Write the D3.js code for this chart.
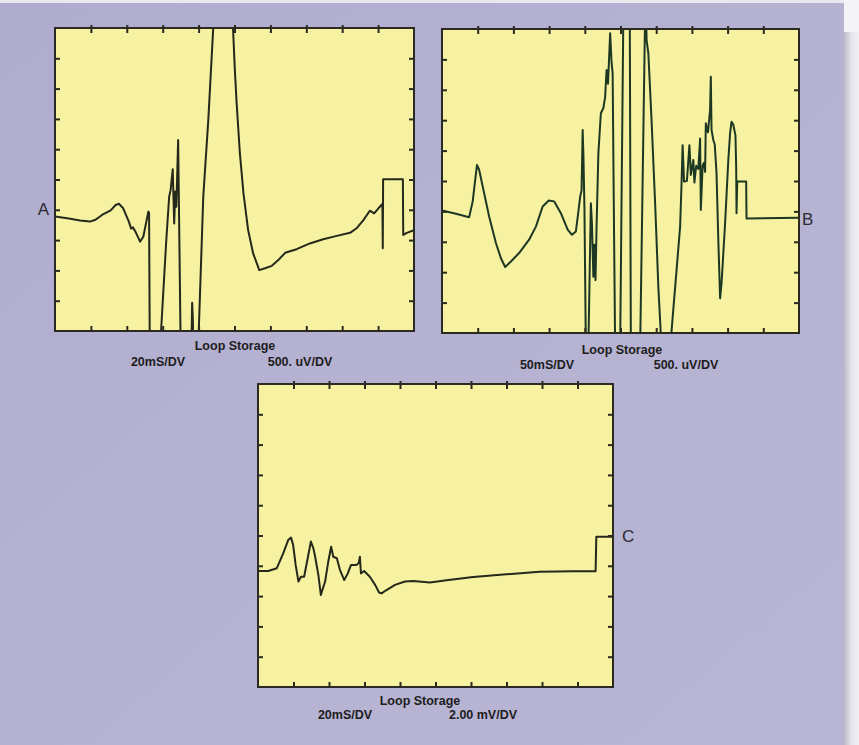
<!DOCTYPE html>
<html>
<head>
<meta charset="utf-8">
<script src="https://cdn.jsdelivr.net/npm/d3@7"></script>
<style>
  html, body { margin: 0; padding: 0; background: #b2aecf; }
  svg { display: block; }
  text { font-family: "Liberation Sans", Arial, sans-serif; fill: #1d1d1d; }
</style>
</head>
<body>
<div id="root"></div>
<script>
const traceA = [
  [0.00,-1.22],[0.34,-1.28],[0.70,-1.35],[0.97,-1.39],[1.13,-1.33],[1.31,-1.17],[1.55,-1.02],
  [1.69,-0.84],[1.78,-0.80],[1.90,-0.95],[2.06,-1.40],[2.12,-1.62],[2.17,-1.58],[2.24,-1.72],
  [2.37,-2.05],[2.46,-1.89],[2.60,-1.06],[2.62,-1.10],[2.64,-5.5],[2.93,-5.5],[3.10,-2.00],
  [3.18,-0.57],[3.22,-0.35],[3.28,0.34],[3.30,-0.60],[3.32,-1.45],[3.35,-0.40],[3.38,-0.90],
  [3.43,1.30],[3.50,-5.5],[3.80,-5.5],[3.82,-4.07],[3.84,-4.60],[3.85,-5.5],[3.99,-5.5],
  [4.13,-0.57],[4.27,1.96],[4.43,5.5],[4.94,5.5],[5.01,3.61],[5.06,2.51],[5.15,0.86],
  [5.25,-0.46],[5.38,-1.67],[5.52,-2.44],[5.69,-2.99],[5.85,-2.93],[6.04,-2.85],[6.22,-2.66],
  [6.41,-2.42],[6.73,-2.30],[7.10,-2.11],[7.47,-1.97],[7.85,-1.86],[8.22,-1.76],[8.40,-1.61],
  [8.59,-1.34],[8.77,-1.03],[8.89,-1.12],[9.01,-0.95],[9.12,-0.81],[9.13,-2.27],[9.14,0.01],
  [9.69,0.01],[9.70,-1.83],[9.80,-1.76],[10.0,-1.67]
];

const traceB = [
  [0.00,-0.97],[0.39,-1.08],[0.76,-1.19],[0.86,-0.67],[0.98,0.53],[1.04,0.37],[1.18,-0.40],
  [1.32,-1.17],[1.51,-2.04],[1.65,-2.54],[1.77,-2.83],[1.93,-2.65],[2.16,-2.37],[2.44,-1.93],
  [2.63,-1.50],[2.82,-0.84],[2.99,-0.64],[3.14,-0.67],[3.33,-1.06],[3.52,-1.60],[3.64,-1.77],
  [3.75,-1.66],[3.80,-1.20],[3.87,-0.52],[3.91,-0.30],[3.94,1.68],[3.96,0.91],[3.99,-0.90],
  [4.03,-5.5],[4.10,-5.5],[4.17,-0.73],[4.20,-1.40],[4.24,-3.15],[4.27,-2.10],[4.30,-3.26],
  [4.33,-1.50],[4.38,0.91],[4.45,2.23],[4.52,2.40],[4.57,2.77],[4.61,3.65],[4.65,3.20],
  [4.71,4.86],[4.75,3.90],[4.78,3.54],[4.81,-0.50],[4.85,-5.5],[4.99,-5.5],[5.08,5.5],
  [5.26,5.5],[5.29,-5.5],[5.55,-5.5],[5.69,5.5],[5.72,5.5],[5.73,4.64],[5.78,4.20],[5.87,2.00],
  [5.97,-0.73],[6.06,-3.48],[6.15,-5.5],[6.39,-5.5],[6.57,-2.93],[6.67,-1.50],[6.71,-0.08],
  [6.74,1.18],[6.78,-0.02],[6.86,0.00],[6.93,1.18],[6.97,0.20],[7.04,0.69],[7.07,-0.05],
  [7.12,0.50],[7.18,0.40],[7.23,1.40],[7.25,-0.95],[7.30,0.50],[7.34,0.60],[7.37,0.30],
  [7.39,1.90],[7.45,1.60],[7.51,2.34],[7.53,3.43],[7.55,1.68],[7.60,1.35],[7.64,1.20],
  [7.69,0.25],[7.74,-1.94],[7.79,-3.86],[7.83,-3.37],[7.93,-1.39],[8.02,0.69],[8.07,1.57],
  [8.11,1.95],[8.16,1.85],[8.22,1.50],[8.24,0.50],[8.25,-1.06],[8.27,-0.02],[8.52,-0.02],
  [8.53,-1.23],[10.0,-1.21]
];

const traceC = [
  [0.00,-1.17],[0.29,-1.17],[0.53,-1.08],[0.71,-0.59],[0.85,-0.15],[0.93,-0.07],[0.99,-0.31],
  [1.06,-0.97],[1.14,-1.52],[1.21,-1.36],[1.30,-1.36],[1.40,-0.75],[1.49,-0.20],[1.56,-0.42],
  [1.61,-0.70],[1.70,-1.30],[1.77,-1.96],[1.89,-1.52],[1.98,-0.86],[2.06,-0.37],[2.12,-0.70],
  [2.22,-0.75],[2.31,-1.14],[2.43,-1.47],[2.53,-1.25],[2.62,-0.97],[2.78,-0.97],[2.84,-0.90],
  [2.87,-0.70],[2.90,-1.25],[2.99,-1.17],[3.15,-1.36],[3.30,-1.63],[3.41,-1.88],[3.48,-1.91],
  [3.62,-1.80],[3.86,-1.63],[4.14,-1.52],[4.37,-1.50],[4.84,-1.55],[5.31,-1.48],[6.06,-1.37],
  [7.00,-1.28],[7.93,-1.20],[8.87,-1.18],[9.51,-1.18],[9.53,-0.04],[10.0,-0.04]
];

const panelLabels = ["A", "B", "C"];
const modeLabel = "Loop Storage";
const timeBases = ["20mS/DV", "50mS/DV", "20mS/DV"];
const voltScales = ["500. uV/DV", "500. uV/DV", "2.00 mV/DV"];
const xTicks = d3.range(1, 10);
const yTicks = d3.range(-4, 5);

const W = 859, H = 745;

// screen boxes and text placement
const panels = [
  { trace: traceA, x: 55, y: 28, w: 359, h: 303, color: "#25281a",
    label: { x: 49, y: 215, anchor: "end" },
    mode: 180, time: 103, volt: 245, row1: 19, row2: 35 },
  { trace: traceB, x: 442, y: 29, w: 357, h: 304, color: "#1d3822",
    label: { x: 802, y: 225, anchor: "start" },
    mode: 180, time: 105, volt: 244, row1: 21, row2: 36 },
  { trace: traceC, x: 258, y: 384, w: 355, h: 303, color: "#25281a",
    label: { x: 622, y: 542, anchor: "start" },
    mode: 162, time: 87, volt: 225, row1: 18, row2: 32 }
];

const svg = d3.select("#root").append("svg")
  .attr("width", W)
  .attr("height", H);

const defs = svg.append("defs");
const bg = defs.append("linearGradient").attr("id", "bg")
  .attr("x1", 0).attr("y1", 0).attr("x2", 1).attr("y2", 1);
bg.append("stop").attr("offset", 0).attr("stop-color", "#b0accf");
bg.append("stop").attr("offset", 0.5).attr("stop-color", "#b6b2d2");
bg.append("stop").attr("offset", 1).attr("stop-color", "#b9b5d4");

const edge = defs.append("linearGradient").attr("id", "edge")
  .attr("x1", 0).attr("y1", 0).attr("x2", 1).attr("y2", 0);
edge.append("stop").attr("offset", 0).attr("stop-color", "#bdbac8");
edge.append("stop").attr("offset", 0.5).attr("stop-color", "#e6e5ec");
edge.append("stop").attr("offset", 1).attr("stop-color", "#f3f2f6");

svg.append("rect").attr("width", W).attr("height", H).attr("fill", "url(#bg)");
svg.append("rect").attr("x", 844).attr("y", 0).attr("width", 15).attr("height", H)
  .attr("fill", "url(#edge)");
svg.append("rect").attr("x", 844).attr("y", 0).attr("width", 15).attr("height", 32)
  .attr("fill", "#f4f3f7");
svg.append("rect").attr("x", 0).attr("y", 0).attr("width", 844).attr("height", 3)
  .attr("fill", "#e9e8ef");

panels.forEach((p, i) => {
  const x = d3.scaleLinear().domain([0, 10]).range([0, p.w]);
  const y = d3.scaleLinear().domain([-5, 5]).range([p.h, 0]);

  const g = svg.append("g").attr("transform", `translate(${p.x},${p.y})`);

  defs.append("clipPath").attr("id", "clip" + i)
    .append("rect").attr("width", p.w).attr("height", p.h);

  g.append("rect")
    .attr("width", p.w)
    .attr("height", p.h)
    .attr("fill", "#f6f2a2");

  const line = d3.line()
    .x(d => x(d[0]))
    .y(d => y(d[1]));

  g.append("path")
    .datum(p.trace)
    .attr("clip-path", `url(#clip${i})`)
    .attr("fill", "none")
    .attr("stroke", p.color)
    .attr("stroke-width", 2)
    .attr("stroke-linejoin", "round")
    .attr("d", line);

  // graticule ticks, pointing into the screen
  const tickStyle = sel => {
    sel.select(".domain").remove();
    sel.selectAll("text").remove();
    sel.selectAll("line").attr("stroke", "#2a2a22").attr("stroke-width", 2);
  };
  g.append("g").call(d3.axisBottom(x).tickValues(xTicks).tickSize(5)).call(tickStyle)
    .selectAll("line").attr("y1", -3);
  g.append("g").attr("transform", `translate(0,${p.h})`)
    .call(d3.axisTop(x).tickValues(xTicks).tickSize(5)).call(tickStyle);
  g.append("g").call(d3.axisRight(y).tickValues(yTicks).tickSize(5)).call(tickStyle);
  g.append("g").attr("transform", `translate(${p.w},0)`)
    .call(d3.axisLeft(y).tickValues(yTicks).tickSize(5)).call(tickStyle);

  g.append("rect")
    .attr("width", p.w)
    .attr("height", p.h)
    .attr("fill", "none")
    .attr("stroke", "#2a2a22")
    .attr("stroke-width", 2);

  svg.append("text")
    .attr("x", p.label.x)
    .attr("y", p.label.y)
    .attr("text-anchor", p.label.anchor)
    .style("font-size", "17px")
    .style("fill", "#2b2b33")
    .text(panelLabels[i]);

  g.append("text")
    .attr("x", p.mode)
    .attr("y", p.h + p.row1)
    .attr("text-anchor", "middle")
    .style("font-size", "12.5px")
    .style("font-weight", "bold")
    .text(modeLabel);

  g.append("text")
    .attr("x", p.time)
    .attr("y", p.h + p.row2)
    .attr("text-anchor", "middle")
    .style("font-size", "12.5px")
    .style("font-weight", "bold")
    .text(timeBases[i]);

  g.append("text")
    .attr("x", p.volt)
    .attr("y", p.h + p.row2)
    .attr("text-anchor", "middle")
    .style("font-size", "12.5px")
    .style("font-weight", "bold")
    .text(voltScales[i]);
});
</script>
</body>
</html>
